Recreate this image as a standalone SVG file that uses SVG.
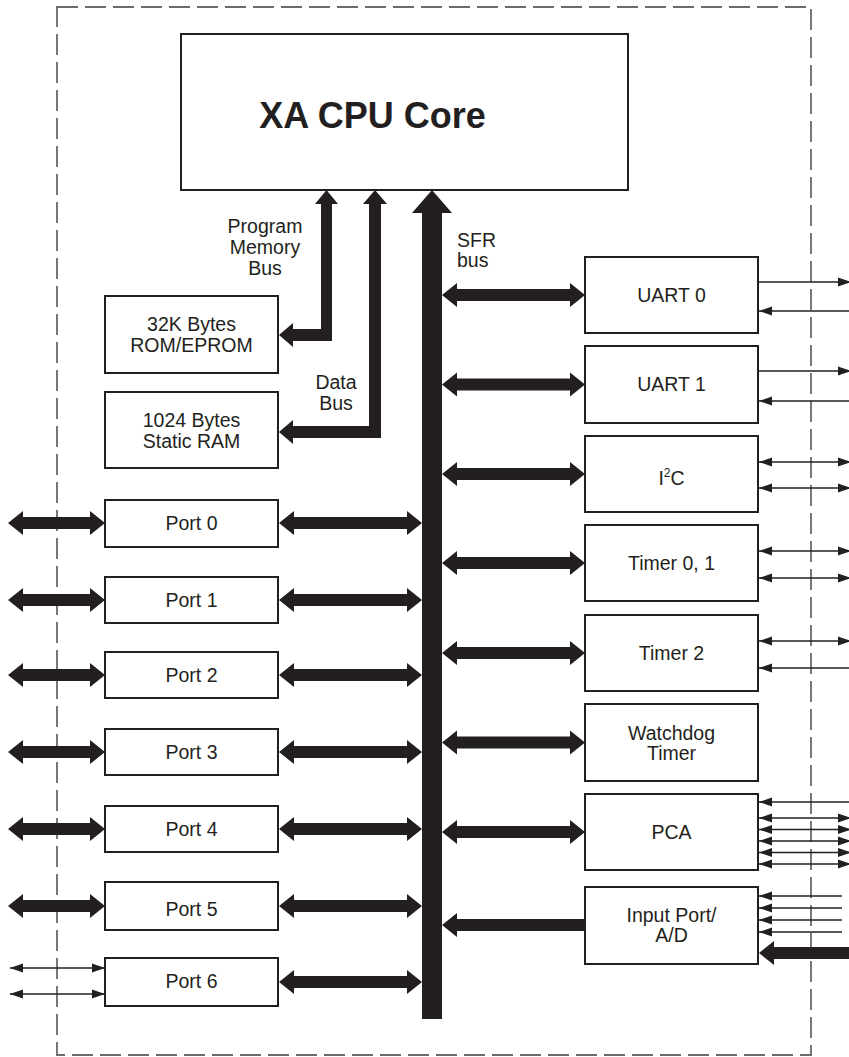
<svg xmlns="http://www.w3.org/2000/svg" width="849" height="1057" viewBox="0 0 849 1057">
<style>
.box{fill:#fff;stroke:#231f20;stroke-width:2}
.t{font-family:"Liberation Sans",Arial,sans-serif;font-size:19.5px;fill:#231f20;text-anchor:middle}
.tl{font-family:"Liberation Sans",Arial,sans-serif;font-size:19.5px;fill:#231f20}
.thick{fill:#231f20}
.thin{stroke:#231f20;stroke-width:1.5;fill:none}
.r{marker-end:url(#ah)}
.d{marker-start:url(#ah);marker-end:url(#ah)}
</style>
<defs>
<marker id="ah" markerWidth="14" markerHeight="10" refX="13" refY="5" orient="auto-start-reverse" markerUnits="userSpaceOnUse"><path d="M0,0.5 L13,5 L0,9.5 Z" fill="#231f20"/></marker>
<path id="aL" d="M8,0 L23,-12 L23,-6 L90,-6 L90,-12 L105,0 L90,12 L90,6 L23,6 L23,12 Z"/>
<path id="aM" d="M279,0 L294,-12 L294,-6 L407,-6 L407,-12 L422,0 L407,12 L407,6 L294,6 L294,12 Z"/>
<path id="aR" d="M442,0 L457,-12 L457,-6 L570,-6 L570,-12 L585,0 L570,12 L570,6 L457,6 L457,12 Z"/>
</defs>
<rect width="849" height="1057" fill="#fff"/>
<rect id="chip" x="57" y="7" width="754" height="1048" fill="none" stroke="#6b6b6b" stroke-width="1.8" stroke-dasharray="21,7"/>

<g id="connectors">
<path class="thick" d="M432,190 L452,213 L442,213 L442,1019 L422,1019 L422,213 L412,213 Z"/>
<path class="thick" d="M326.5,190 L338,204 L332,204 L332,341 L293,341 L293,347 L279,335 L293,323 L293,329 L321,329 L321,204 L315,204 Z"/>
<path class="thick" d="M375,190 L387,204 L381,204 L381,438 L293,438 L293,444 L279,432 L293,420 L293,426 L369,426 L369,204 L363,204 Z"/>
<g class="thick">
<use href="#aL" y="523"/><use href="#aL" y="600"/><use href="#aL" y="675"/><use href="#aL" y="752"/><use href="#aL" y="829"/><use href="#aL" y="906"/>
<use href="#aM" y="523"/><use href="#aM" y="600"/><use href="#aM" y="675"/><use href="#aM" y="752"/><use href="#aM" y="829"/><use href="#aM" y="906"/><use href="#aM" y="982"/>
<use href="#aR" y="295"/><use href="#aR" y="384.5"/><use href="#aR" y="474"/><use href="#aR" y="563"/><use href="#aR" y="653"/><use href="#aR" y="742.5"/><use href="#aR" y="832"/>
<path d="M442,925 L457,913 L457,919 L585,919 L585,931 L457,931 L457,937 Z"/>
<path d="M759,953 L774,941 L774,947 L851,947 L851,959 L774,959 L774,965 Z"/>
</g>
<g class="thin">
<line class="d" x1="10" y1="968" x2="105" y2="968"/>
<line class="d" x1="10" y1="994" x2="105" y2="994"/>
<line class="r" x1="759" y1="282" x2="851" y2="282"/>
<line class="r" x1="851" y1="311" x2="759" y2="311"/>
<line class="r" x1="759" y1="371" x2="851" y2="371"/>
<line class="r" x1="851" y1="401" x2="759" y2="401"/>
<line class="d" x1="759" y1="462" x2="851" y2="462"/>
<line class="d" x1="759" y1="488" x2="851" y2="488"/>
<line class="d" x1="759" y1="551" x2="851" y2="551"/>
<line class="d" x1="759" y1="578" x2="851" y2="578"/>
<line class="d" x1="759" y1="641" x2="851" y2="641"/>
<line class="r" x1="851" y1="668" x2="759" y2="668"/>
<line class="r" x1="851" y1="802" x2="759" y2="802"/>
<line class="d" x1="759" y1="818" x2="851" y2="818"/>
<line class="d" x1="759" y1="829.5" x2="851" y2="829.5"/>
<line class="d" x1="759" y1="841" x2="851" y2="841"/>
<line class="d" x1="759" y1="852.5" x2="851" y2="852.5"/>
<line class="d" x1="759" y1="864" x2="851" y2="864"/>
<line class="r" x1="842" y1="896" x2="759" y2="896"/>
<line class="r" x1="842" y1="908" x2="759" y2="908"/>
<line class="r" x1="842" y1="920" x2="759" y2="920"/>
<line class="r" x1="842" y1="932" x2="759" y2="932"/>
</g>
<text class="t" x="265" y="233">Program</text>
<text class="t" x="265" y="254">Memory</text>
<text class="t" x="265" y="275">Bus</text>
<text class="t" x="336" y="389">Data</text>
<text class="t" x="336" y="410">Bus</text>
<text class="tl" x="457" y="247">SFR</text>
<text class="tl" x="457" y="267">bus</text>
</g>

<g id="cpu"><rect class="box" x="181" y="34" width="447" height="156"/>
<text x="372.5" y="128" style="font-family:'Liberation Sans',Arial,sans-serif;font-size:36px;font-weight:bold;fill:#231f20;text-anchor:middle">XA CPU Core</text></g>
<g id="rom"><rect class="box" x="105" y="296" width="173" height="77"/><text class="t" x="191.5" y="331">32K Bytes</text><text class="t" x="191.5" y="352">ROM/EPROM</text></g>
<g id="ram"><rect class="box" x="105" y="392" width="173" height="76"/><text class="t" x="191.5" y="427">1024 Bytes</text><text class="t" x="191.5" y="448">Static RAM</text></g>
<g id="port0"><rect class="box" x="105" y="500" width="173" height="47"/><text class="t" x="191.5" y="530">Port 0</text></g>
<g id="port1"><rect class="box" x="105" y="577" width="173" height="46"/><text class="t" x="191.5" y="607">Port 1</text></g>
<g id="port2"><rect class="box" x="105" y="652" width="173" height="46"/><text class="t" x="191.5" y="682">Port 2</text></g>
<g id="port3"><rect class="box" x="105" y="729" width="173" height="46"/><text class="t" x="191.5" y="759">Port 3</text></g>
<g id="port4"><rect class="box" x="105" y="806" width="173" height="46"/><text class="t" x="191.5" y="836">Port 4</text></g>
<g id="port5"><rect class="box" x="105" y="882" width="173" height="48"/><text class="t" x="191.5" y="916">Port 5</text></g>
<g id="port6"><rect class="box" x="105" y="958" width="173" height="48"/><text class="t" x="191.5" y="988">Port 6</text></g>

<g id="uart0"><rect class="box" x="585" y="257" width="173" height="76"/><text class="t" x="671.5" y="302">UART 0</text></g>
<g id="uart1"><rect class="box" x="585" y="346" width="173" height="77"/><text class="t" x="671.5" y="391">UART 1</text></g>
<g id="i2c"><rect class="box" x="585" y="436" width="173" height="76"/><text class="t" x="671.5" y="485">I<tspan font-size="12" dy="-8">2</tspan><tspan dy="8">C</tspan></text></g>
<g id="timer01"><rect class="box" x="585" y="525" width="173" height="76"/><text class="t" x="671.5" y="570">Timer 0, 1</text></g>
<g id="timer2"><rect class="box" x="585" y="615" width="173" height="76"/><text class="t" x="671.5" y="660">Timer 2</text></g>
<g id="watchdog"><rect class="box" x="585" y="704" width="173" height="77"/><text class="t" x="671.5" y="740">Watchdog</text><text class="t" x="671.5" y="760">Timer</text></g>
<g id="pca"><rect class="box" x="585" y="794" width="173" height="76"/><text class="t" x="671.5" y="839">PCA</text></g>
<g id="inport"><rect class="box" x="585" y="887" width="173" height="77"/><text class="t" x="671.5" y="922">Input Port/</text><text class="t" x="671.5" y="942">A/D</text></g>
</svg>
